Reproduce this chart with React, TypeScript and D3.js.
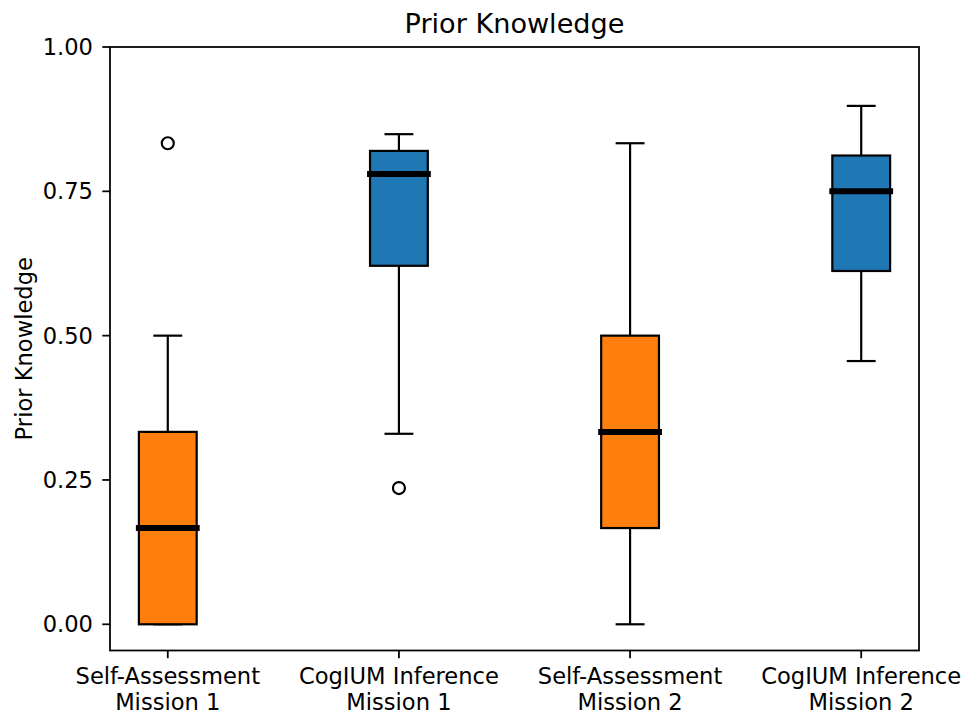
import React from "react";
import * as d3 from "d3";

const categories = ["Self-Assessment\nMission 1", "CogIUM Inference\nMission 1", "Self-Assessment\nMission 2", "CogIUM Inference\nMission 2"];
const positions = [1, 2, 3, 4];
const q1 = [0.0, 0.621, 0.1667, 0.612];
const medians = [0.1667, 0.78, 0.3333, 0.75];
const q3 = [0.3333, 0.82, 0.5, 0.812];
const whiskerLow = [0.0, 0.33, 0.0, 0.456];
const whiskerHigh = [0.5, 0.849, 0.8333, 0.898];
const fliers = [[0.8333], [0.236], [], []];
const boxColors = ["#ff7f0e", "#1f77b4", "#ff7f0e", "#1f77b4"];
const yTicks = [0, 0.25, 0.5, 0.75, 1.0];

const W = 967;
const H = 713;
const left = 110;
const right = 919;
const top = 47;
const bottom = 650.5;
const FONT = "DejaVu Sans, sans-serif";
const FS = 22.6;

export default function App() {
  const x = d3.scaleLinear().domain([0.75, 4.25]).range([left, right]);
  const y = d3.scaleLinear().domain([-0.0454, 1.0]).range([bottom, top]);
  const boxW = 0.25;
  const capW = 0.125;
  const fmt = d3.format(".2f");
  const lw = 2.2;
  return (
    <svg width={W} height={H} style={{ position: "absolute", left: 0, top: 0, background: "#fff" }}>
      <rect x={0} y={0} width={W} height={H} fill="#fff" />
      {positions.map((p, i) => {
        const cx = x(p);
        const x0 = x(p - boxW / 2);
        const x1 = x(p + boxW / 2);
        const c0 = x(p - capW / 2);
        const c1 = x(p + capW / 2);
        return (
          <g key={i}>
            <line x1={cx} x2={cx} y1={y(q3[i])} y2={y(whiskerHigh[i])} stroke="#000" strokeWidth={lw} />
            <line x1={cx} x2={cx} y1={y(q1[i])} y2={y(whiskerLow[i])} stroke="#000" strokeWidth={lw} />
            <line x1={c0} x2={c1} y1={y(whiskerHigh[i])} y2={y(whiskerHigh[i])} stroke="#000" strokeWidth={lw} />
            <line x1={c0} x2={c1} y1={y(whiskerLow[i])} y2={y(whiskerLow[i])} stroke="#000" strokeWidth={lw} />
            <rect x={x0} y={y(q3[i])} width={x1 - x0} height={y(q1[i]) - y(q3[i])} fill={boxColors[i]} stroke="#000" strokeWidth={lw} />
            <line x1={x0} x2={x1} y1={y(medians[i])} y2={y(medians[i])} stroke="#000" strokeWidth={6} strokeLinecap="square" />
            {fliers[i].map((f, j) => (
              <circle key={j} cx={cx} cy={y(f)} r={6} fill="none" stroke="#000" strokeWidth={2.2} />
            ))}
          </g>
        );
      })}
      <rect x={left} y={top} width={right - left} height={bottom - top} fill="none" stroke="#000" strokeWidth={1.76} />
      {yTicks.map((t) => (
        <g key={t}>
          <line x1={left - 7.7} x2={left} y1={y(t)} y2={y(t)} stroke="#000" strokeWidth={1.76} />
          <text x={93} y={y(t)} dy="0.36em" textAnchor="end" fontFamily={FONT} fontSize={FS} fill="#000">
            {fmt(t)}
          </text>
        </g>
      ))}
      {positions.map((p, i) => (
        <g key={"xt" + i}>
          <line x1={x(p)} x2={x(p)} y1={bottom} y2={bottom + 7.7} stroke="#000" strokeWidth={1.76} />
          {categories[i].split("\n").map((ln, k) => (
            <text key={k} x={x(p)} y={684 + k * 25.6} textAnchor="middle" fontFamily={FONT} fontSize={FS} fill="#000">
              {ln}
            </text>
          ))}
        </g>
      ))}
      <text x={(left + right) / 2} y={33} textAnchor="middle" fontFamily={FONT} fontSize={27.1} fill="#000">
        Prior Knowledge
      </text>
      <text transform={`translate(32,${(top + bottom) / 2}) rotate(-90)`} textAnchor="middle" fontFamily={FONT} fontSize={FS} fill="#000">
        Prior Knowledge
      </text>
    </svg>
  );
}
